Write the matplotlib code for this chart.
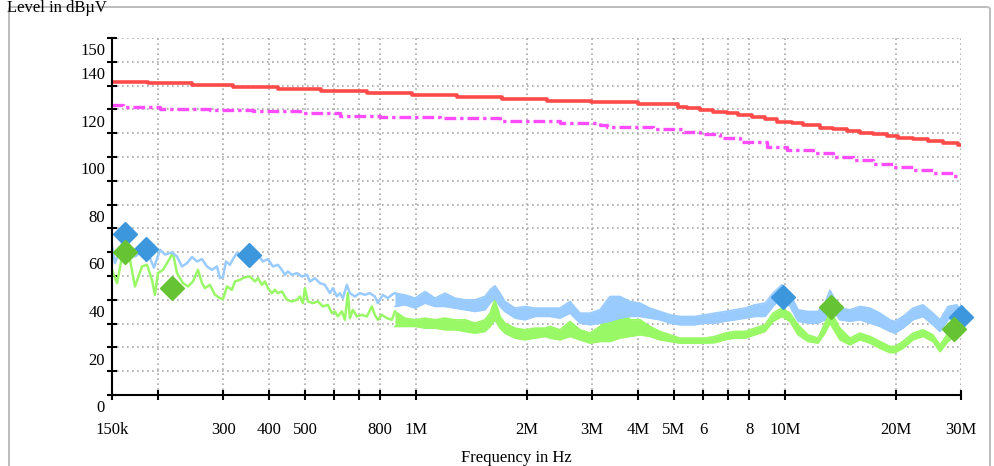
import matplotlib
matplotlib.use("Agg")
import matplotlib.pyplot as plt
from matplotlib.patches import FancyBboxPatch

plt.rcParams["font.family"] = ["Liberation Serif", "DejaVu Serif"]

# limit lines (MHz, dBuV), stepped
red_f = [0.15, 0.188, 0.247, 0.319, 0.423, 0.552, 0.737, 0.975, 1.29, 1.71, 2.26, 2.99,
         4.0, 5.14, 5.44, 5.88, 6.39, 6.95, 7.47, 8.12, 8.83, 9.49, 10.43, 11.2, 12.44,
         13.52, 14.7, 15.97, 17.34, 18.85, 20.28, 22.27, 24.45, 26.84, 29.49, 30.0]
red_db = [131.6, 131.0, 130.1, 129.3, 128.4, 127.6, 126.9, 126.1, 125.3, 124.5, 123.7, 123.0,
          122.1, 121.1, 120.5, 119.7, 119.0, 118.4, 117.6, 116.7, 115.8, 114.8, 114.2, 113.3, 112.3,
          111.6, 110.9, 110.2, 109.5, 108.8, 108.1, 107.4, 106.7, 106.0, 105.0, 105.0]

mag_f = [0.15, 0.1607, 0.2024, 0.2764, 0.3617, 0.485, 0.6226, 0.7994, 1.161, 1.689, 2.456,
         3.152, 3.29, 4.38, 5.29, 5.88, 6.66, 7.55, 8.93, 10.11, 11.9, 13.48, 15.28, 17.33,
         19.64, 22.27, 25.18, 28.56, 30.0]
mag_db = [121.8, 121.1, 120.2, 119.6, 119.2, 118.4, 117.4, 116.8, 116.2, 115.3, 114.3,
          113.4, 112.5, 111.8, 110.6, 109.7, 107.9, 106.4, 104.3, 102.9, 101.6, 99.9, 98.7, 97.1,
          95.9, 94.5, 93.2, 92.0, 92.0]

# peak trace, low band
blue_f = [0.1500, 0.1528, 0.1567, 0.1627, 0.1678, 0.1731, 0.1786, 0.1855, 0.1925, 0.1949,
          0.2024, 0.2088, 0.2181, 0.2250, 0.2321, 0.2395, 0.2471, 0.2549, 0.2630, 0.2713,
          0.2799, 0.2888, 0.2943, 0.2998, 0.3054, 0.3132, 0.3191, 0.3271, 0.3375, 0.3526,
          0.3729, 0.3847, 0.3969, 0.4094, 0.4224, 0.4331, 0.4413, 0.4496, 0.4610, 0.4756,
          0.4906, 0.5062, 0.5158, 0.5321, 0.5490, 0.5663, 0.5842, 0.5953, 0.6103, 0.6218,
          0.6336, 0.6496, 0.6619, 0.6829, 0.7045, 0.7268, 0.7498, 0.7735, 0.7882, 0.8132,
          0.8389, 0.8601]
blue_db = [62.4, 55.4, 60.3, 67.0, 59.8, 58.2, 59.8, 61.5, 55.5, 53.5,
           61.0, 59.0, 59.9, 58.2, 54.0, 55.4, 58.0, 56.1, 57.1, 54.0,
           52.6, 54.0, 49.1, 49.5, 56.1, 54.7, 57.1, 59.7, 58.2, 59.0,
           58.9, 56.1, 57.1, 54.0, 54.7, 52.6, 50.5, 51.9, 50.5, 51.2,
           49.8, 50.5, 47.7, 49.1, 47.0, 46.3, 42.8, 44.9, 41.4, 42.8,
           40.7, 46.3, 42.8, 41.4, 42.8, 42.1, 42.8, 41.4, 38.6, 42.1,
           40.7, 42.1]

# average trace, low band
green_f = [0.1500, 0.1548, 0.1597, 0.1627, 0.1678, 0.1731, 0.1809, 0.1866, 0.1925, 0.1961,
           0.1998, 0.2062, 0.2127, 0.2195, 0.2250, 0.2336, 0.2410, 0.2486, 0.2565, 0.2630,
           0.2680, 0.2764, 0.2852, 0.2943, 0.2998, 0.3074, 0.3171, 0.3231, 0.3333, 0.3439,
           0.3548, 0.3660, 0.3729, 0.3823, 0.3895, 0.3969, 0.4069, 0.4146, 0.4224, 0.4331,
           0.4468, 0.4610, 0.4756, 0.4846, 0.4937, 0.4999, 0.5094, 0.5255, 0.5422, 0.5593,
           0.5770, 0.5916, 0.6028, 0.6141, 0.6297, 0.6416, 0.6537, 0.6619, 0.6744, 0.6914,
           0.7133, 0.7359, 0.7592, 0.7735, 0.7882, 0.8081, 0.8337, 0.8601]
green_db = [52.6, 47.0, 58.2, 60.0, 56.8, 45.6, 54.0, 54.7, 48.4, 42.1,
            51.2, 52.6, 56.1, 59.7, 51.2, 47.0, 45.6, 47.7, 52.6, 47.0,
            44.9, 46.3, 42.1, 40.7, 40.3, 45.6, 44.2, 47.7, 48.4, 49.5,
            49.8, 47.7, 49.1, 46.3, 47.7, 44.9, 42.8, 44.2, 42.8, 43.5,
            40.0, 39.3, 40.0, 41.4, 38.6, 44.9, 39.3, 38.6, 39.3, 37.2,
            37.9, 34.4, 35.1, 33.0, 35.1, 31.6, 42.8, 32.3, 35.8, 33.0,
            33.7, 33.0, 37.2, 33.7, 31.6, 33.7, 32.3, 31.6]

# dense part above ~0.9 MHz: upper / lower envelope of each trace
band_f = [0.877, 0.933, 0.994, 1.058, 1.126, 1.198, 1.275, 1.358, 1.445, 1.538,
          1.587, 1.637, 1.689, 1.742, 1.855, 1.974, 2.101, 2.237, 2.307, 2.456,
          2.614, 2.783, 2.962, 3.152, 3.355, 3.571, 3.801, 4.046, 4.306, 4.584,
          4.879, 5.193, 5.527, 5.70, 6.07, 6.46, 6.88, 7.32, 7.79, 8.29,
          8.83, 9.28, 9.81, 10.32, 10.85, 11.54, 12.29, 12.83, 13.24, 14.09,
          15.0, 15.97, 17.0, 18.09, 19.25, 19.86, 20.88, 22.23, 23.66, 25.18,
          26.31, 27.66, 29.25, 30.0]
blue_hi = [42.8, 42.1, 40.7, 43.5, 40.7, 42.8, 40.7, 40.0, 40.0, 41.4,
           44.2, 45.9, 42.8, 39.3, 36.5, 37.2, 36.5, 36.5, 36.5, 36.5,
           39.3, 34.4, 34.4, 35.8, 41.4, 41.4, 39.3, 38.6, 36.5, 35.1,
           33.7, 33.0, 33.0, 33.0, 33.7, 34.4, 35.1, 35.8, 36.5, 37.9,
           38.6, 42.8, 46.3, 42.8, 35.8, 35.1, 35.1, 38.6, 44.0, 36.5,
           35.8, 37.2, 36.5, 34.4, 31.6, 30.9, 33.0, 36.5, 37.9, 34.4,
           31.6, 37.2, 37.9, 35.0]
blue_lo = [37.2, 37.9, 36.5, 38.6, 37.2, 37.2, 36.5, 35.8, 35.1, 35.8,
           38.6, 40.7, 37.2, 35.1, 32.3, 31.6, 33.0, 33.0, 33.0, 32.3,
           34.4, 30.2, 29.5, 30.2, 31.0, 32.3, 33.0, 33.0, 32.3, 31.6,
           30.2, 29.5, 29.5, 29.5, 30.2, 30.2, 31.0, 31.6, 32.3, 33.0,
           33.0, 37.2, 41.4, 37.2, 31.0, 30.2, 30.2, 31.6, 37.2, 31.6,
           31.0, 31.6, 30.2, 28.8, 26.7, 26.0, 28.1, 31.6, 33.0, 29.5,
           26.7, 31.6, 33.0, 31.0]
green_hi = [35.1, 32.3, 31.6, 32.3, 31.6, 32.3, 31.6, 31.6, 30.2, 31.6,
            34.4, 40.0, 33.0, 30.2, 28.1, 27.4, 28.1, 28.1, 28.8, 27.4,
            30.9, 27.4, 26.0, 28.8, 35.8, 38.6, 31.6, 31.6, 28.8, 26.7,
            25.3, 23.9, 23.9, 23.9, 23.9, 24.6, 26.0, 26.7, 26.7, 28.1,
            29.5, 34.4, 36.5, 34.4, 29.5, 25.3, 23.9, 30.2, 35.8, 28.1,
            23.9, 26.0, 24.6, 22.5, 20.4, 20.4, 22.5, 26.0, 27.4, 25.3,
            21.0, 26.0, 28.8, 30.0]
green_lo = [28.8, 28.8, 28.8, 28.1, 28.1, 27.4, 27.4, 26.7, 26.0, 26.7,
            28.8, 31.6, 28.1, 26.0, 23.9, 23.2, 23.9, 24.6, 23.9, 23.2,
            24.6, 23.2, 21.8, 22.5, 22.5, 23.9, 24.6, 25.3, 24.6, 23.2,
            22.5, 21.8, 21.8, 21.8, 21.8, 22.0, 23.2, 23.9, 23.9, 25.3,
            26.7, 30.9, 33.0, 30.9, 25.3, 22.5, 21.8, 26.0, 30.2, 23.2,
            21.1, 23.2, 21.8, 19.6, 17.8, 17.8, 19.6, 23.2, 24.6, 22.5,
            18.2, 22.5, 25.3, 27.0]

# final measurement markers
peak_mark_f = [0.163, 0.185, 0.352, 9.86, 30.0]
peak_mark_db = [67.6, 61.3, 58.8, 41.2, 32.8]
avg_mark_f = [0.163, 0.218, 13.3, 28.7]
avg_mark_db = [60.1, 45.0, 37.0, 27.7]

x_major = [0.15, 0.3, 0.4, 0.5, 0.8, 1, 2, 3, 4, 5, 6, 8, 10, 20, 30]
x_labels = ["150k", "300", "400", "500", "800", "1M", "2M", "3M", "4M", "5M",
            "6", "8", "10M", "20M", "30M"]
x_minor = [0.2, 0.6, 0.7, 7]
y_ticks = list(range(0, 151, 10))
y_labels = [0, 20, 40, 60, 80, 100, 120, 140, 150]

RED = "#ff4a4a"
MAGENTA = "#ff4cff"
LIGHT_BLUE = "#99cbff"
LIGHT_GREEN = "#99f865"
DARK_BLUE = "#3d97dc"
DARK_GREEN = "#66c334"


def main():
    W, H = 994, 466
    fig = plt.figure(figsize=(W / 100, H / 100), dpi=100)

    frame = FancyBboxPatch((9 / W, -0.05), 981 / W, 1 - 7 / H + 0.05,
                           boxstyle="round,pad=0,rounding_size=0.004",
                           transform=fig.transFigure, fill=False,
                           edgecolor="#bdbdbd", linewidth=1.4)
    fig.patches.append(frame)

    ax = fig.add_axes([112 / W, 1 - 395 / H, (961 - 112) / W, (395 - 38) / H])
    ax.set_xscale("log")
    ax.set_xlim(0.15, 30)
    ax.set_ylim(0, 150)

    grid_kw = dict(color="#a9a9a9", linewidth=1.2, linestyle=(0, (1, 2)), zorder=0)
    for v in y_ticks[1:]:
        ax.axhline(v, **grid_kw)
    for f in x_major[1:] + x_minor:
        ax.axvline(f, **grid_kw)

    ax.fill_between(band_f, green_lo, green_hi, color=LIGHT_GREEN, linewidth=0, zorder=2)
    ax.plot(band_f, green_hi, color=LIGHT_GREEN, lw=1.2, zorder=2)
    ax.plot(band_f, green_lo, color=LIGHT_GREEN, lw=1.2, zorder=2)
    ax.plot(green_f + band_f[:1], green_db + [green_hi[0]], color=LIGHT_GREEN, lw=1.8, zorder=2)

    ax.fill_between(band_f, blue_lo, blue_hi, color=LIGHT_BLUE, linewidth=0, zorder=3)
    ax.plot(band_f, blue_hi, color=LIGHT_BLUE, lw=1.2, zorder=3)
    ax.plot(band_f, blue_lo, color=LIGHT_BLUE, lw=1.2, zorder=3)
    ax.plot(blue_f + band_f[:1], blue_db + [blue_hi[0]], color=LIGHT_BLUE, lw=1.8, zorder=3)

    ax.plot(red_f, red_db, color=RED, lw=2.6, drawstyle="steps-post", zorder=4)
    ax.plot(mag_f, mag_db, color=MAGENTA, lw=2.4, drawstyle="steps-post",
            linestyle=(0, (3.5, 1.2, 1, 1.2)), zorder=4)

    ax.plot(peak_mark_f, peak_mark_db, linestyle="none", marker="D", ms=12.5,
            color=DARK_BLUE, zorder=6, clip_on=False)
    ax.plot(avg_mark_f, avg_mark_db, linestyle="none", marker="D", ms=12.5,
            color=DARK_GREEN, zorder=6, clip_on=False)

    for side in ("top", "right"):
        ax.spines[side].set_visible(False)
    for side in ("left", "bottom"):
        ax.spines[side].set_linewidth(1.5)
        ax.spines[side].set_zorder(7)

    ax.set_xticks(x_major, x_labels)
    ax.set_xticks(x_minor, minor=True)
    ax.xaxis.set_minor_formatter(plt.NullFormatter())
    ax.set_yticks(y_ticks, [""] * len(y_ticks))
    ax.tick_params(axis="both", which="both", direction="inout", length=7,
                   width=1.5, color="black", labelsize=12)
    ax.tick_params(axis="x", which="major", pad=16)

    for v in y_labels:
        ax.annotate(str(v), xy=(0, v), xycoords=("axes fraction", "data"),
                    xytext=(-5, -9.5), textcoords="offset points",
                    ha="right", va="center", fontsize=12)

    fig.text(7 / W, 1 - 12 / H, "Level in dBµV", ha="left", va="baseline", fontsize=12)
    fig.text(516 / W, 1 - 462 / H, "Frequency in Hz", ha="center", va="baseline", fontsize=12)

    fig.savefig("out.png", dpi=100)


if __name__ == "__main__":
    main()
